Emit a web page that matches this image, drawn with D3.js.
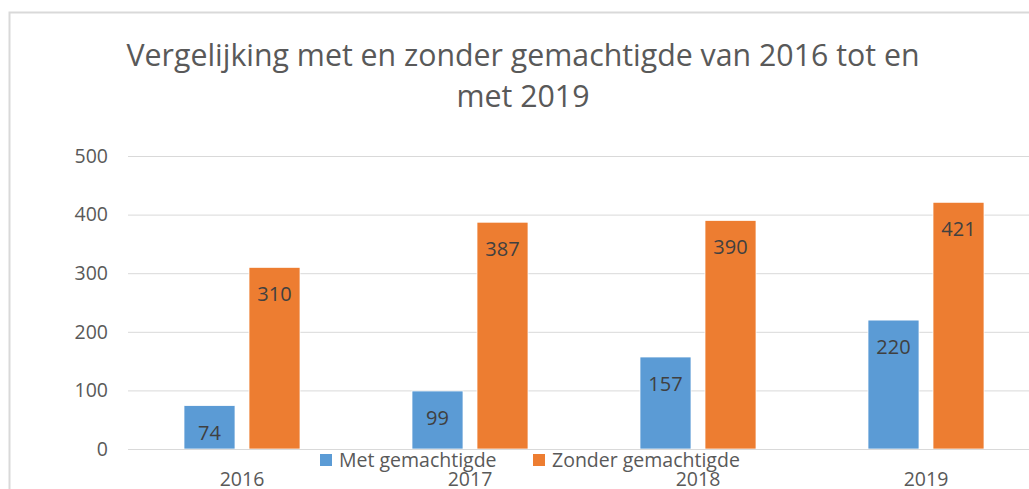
<!DOCTYPE html>
<html><head><meta charset="utf-8">
<script src="https://cdn.jsdelivr.net/npm/d3@7"></script>
<style>html,body{margin:0;padding:0;background:#fff;overflow:hidden}</style>
</head><body>
<svg id="c" width="1029" height="489"></svg>
<script>
const categories = ["2016", "2017", "2018", "2019"];
const seriesNames = ["Met gemachtigde", "Zonder gemachtigde"];
const metValues = [74, 99, 157, 220];
const zonderValues = [310, 387, 390, 421];
const yTicks = [0, 100, 200, 300, 400, 500];
const titleLines = ["Vergelijking met en zonder gemachtigde van 2016 tot en", "met 2019"];
const colors = ["#5B9BD5", "#ED7D31"];

const FONT = "'Open Sans', sans-serif";
const svg = d3.select("#c");

// chart border
svg.append("rect").attr("x", 9.5).attr("y", 12.5).attr("width", 1040).attr("height", 520)
  .attr("fill", "none").attr("stroke", "#d9d9d9").attr("stroke-width", 2);

const x0 = d3.scaleBand().domain(categories).range([128, 1040]).padding(0);
const x1 = d3.scaleBand().domain(seriesNames).range([0, 116]).paddingInner(0.2154).paddingOuter(0);
const y = d3.scaleLinear().domain([0, 500]).range([449, 156]);

// gridlines
const yAxis = d3.axisLeft(y).tickValues(yTicks).tickSize(-(1040 - 128)).tickFormat(d3.format("d"));
const gy = svg.append("g").attr("transform", "translate(128,0)").call(yAxis);
gy.select(".domain").remove();
gy.selectAll(".tick line").attr("stroke", "#d9d9d9").attr("stroke-width", 1);
gy.selectAll(".tick text").attr("x", -20).attr("fill", "#595959")
  .style("font-family", FONT).style("font-size", "19.5px");

const data = categories.map((c, i) => ({cat: c, vals: [metValues[i], zonderValues[i]]}));
const groups = svg.append("g").selectAll("g").data(data).join("g")
  .attr("transform", d => `translate(${x0(d.cat) + x0.bandwidth() / 2 - 58},0)`);
const bars = groups.selectAll("g").data(d => d.vals.map((v, j) => ({s: seriesNames[j], v, j}))).join("g");
bars.append("rect")
  .attr("x", d => x1(d.s)).attr("width", x1.bandwidth())
  .attr("y", d => y(d.v)).attr("height", d => y(0) - y(d.v))
  .attr("fill", d => colors[d.j]).attr("stroke", "#fff").attr("stroke-width", 0.75);
bars.append("text")
  .attr("x", d => x1(d.s) + x1.bandwidth() / 2).attr("y", d => y(d.v) + 34)
  .attr("text-anchor", "middle").attr("fill", "#404040")
  .style("font-family", FONT).style("font-size", "20px").text(d => d.v);

// x axis labels
const xAxis = d3.axisBottom(x0).tickSize(0).tickPadding(0);
const gx = svg.append("g").attr("transform", "translate(0,449)").call(xAxis);
gx.select(".domain").attr("stroke", "#d9d9d9").attr("stroke-width", 1);
gx.selectAll(".tick text").attr("dy", null).attr("y", 37).attr("fill", "#595959")
  .style("font-family", FONT).style("font-size", "19.5px");

// title
const t = svg.append("text").attr("text-anchor", "middle").attr("fill", "#595959")
  .style("font-family", FONT).style("font-size", "30.3px");
t.selectAll("tspan").data(titleLines).join("tspan")
  .attr("x", 523).attr("y", (d, i) => 66 + i * 41).text(d => d);

// legend
const legendX = [320, 533];
const lg = svg.append("g").selectAll("g").data(seriesNames).join("g")
  .attr("transform", (d, i) => `translate(${legendX[i]},454)`);
lg.append("rect").attr("width", 12).attr("height", 12).attr("fill", (d, i) => colors[i]);
lg.append("text").attr("x", 19).attr("y", 13).attr("fill", "#595959")
  .style("font-family", FONT).style("font-size", "19.5px").text(d => d);
</script>
</body></html>
